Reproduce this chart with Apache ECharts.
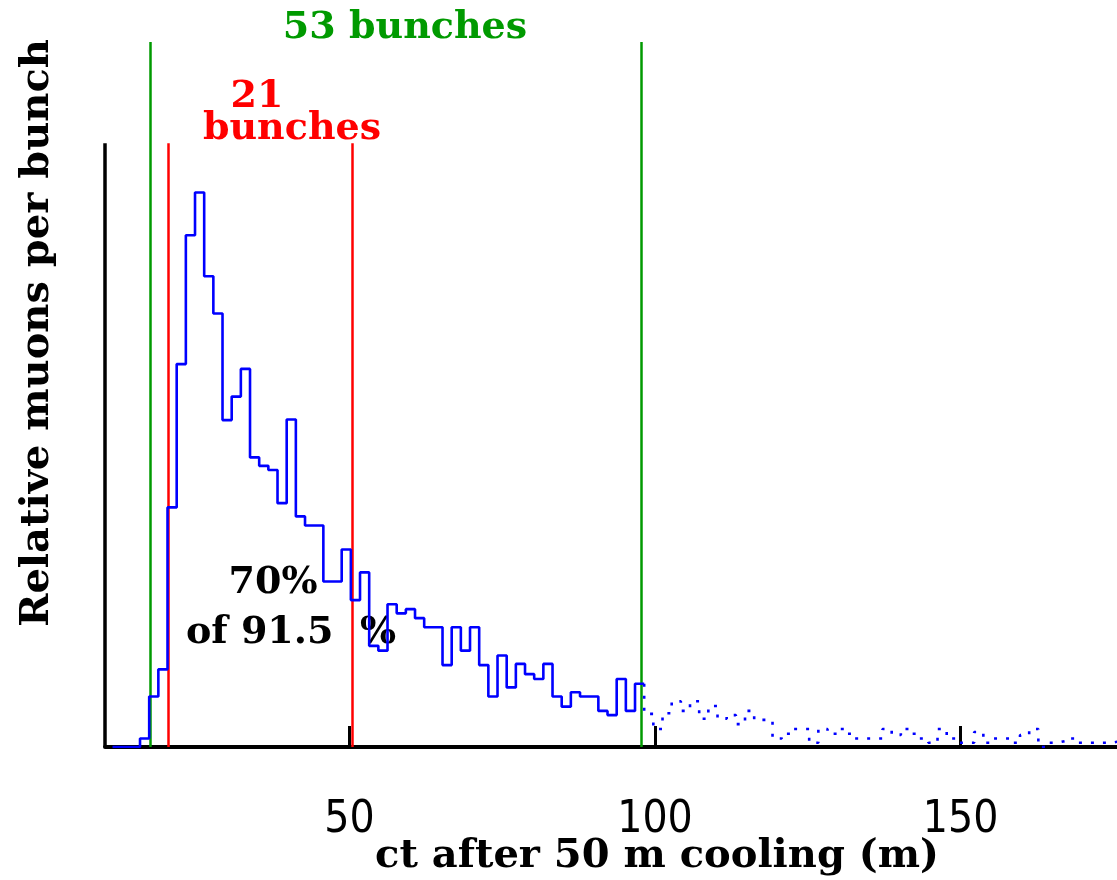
<!DOCTYPE html>
<html>
<head>
<meta charset="utf-8">
<script src="https://cdn.jsdelivr.net/npm/echarts@6/dist/echarts.min.js"></script>
<style>
  html, body { margin: 0; padding: 0; background: #fff; }
  #chart { width: 1117px; height: 880px; }
</style>
</head>
<body>
<div id="chart"></div>
<script>
// Bunch train after 50 m of cooling: muons per 1.5 m RF bucket along ct.
const binStart = 11.23;   // left edge of the first bucket (m)
const binWidth = 1.5;     // bucket spacing (m)

// Buckets inside the 53-bunch window (solid line)
const mainCounts = [
  0, 0, 0,
  1.4, 8.4, 12.9, 39.8, 63.6, 85.0, 92.1, 78.2, 72.0, 54.3,
  58.2, 62.8, 48.1, 46.7, 46.0, 40.5, 54.4, 38.3, 36.8, 36.8,
  27.5, 27.5, 32.8, 24.4, 29.0, 16.8, 16.0, 23.7, 22.2, 22.9,
  21.4, 19.9, 19.9, 13.6, 19.9, 16.0, 19.9, 13.6, 8.4, 15.2,
  9.9, 13.8, 12.1, 11.3, 13.8, 8.4, 6.7, 9.1, 8.4, 8.4,
  6.0, 5.3, 11.3, 6.0, 10.5
];

// Trailing buckets beyond the window (dotted line)
const tailCounts = [
  5.5, 3.0, 5.6, 7.6, 6.0, 7.6, 4.7, 6.8, 4.7, 5.3,
  3.8, 6.0, 4.5, 4.5, 1.4, 2.2, 3.0, 3.0, 0.7, 3.0,
  2.2, 3.0, 2.2, 1.4, 1.4, 1.4, 3.0, 2.0, 3.0, 2.2,
  1.4, 0.7, 3.0, 1.4, 0.7, 0.7, 2.5, 0.7, 1.4, 1.4,
  0.7, 2.0, 3.0, 0.0, 0.7, 1.0, 1.4, 0.7, 0.7, 0.7,
  0.7, 1.0
];

// Bunch-window boundaries (m)
const window53 = [17.36, 97.8];
const window21 = [20.4, 50.44];

const xTickValues = [50, 100, 150];
const xRange = [10, 175.6];
const yMax = 117.1;
const yAxisTop = 100.3;
const redTop = 100.3;

// Step outline: each bucket is one horizontal run ending at its right edge.
function stepPoints(counts, firstBin, startValue) {
  const pts = [[binStart + firstBin * binWidth, startValue]];
  counts.forEach((v, i) => {
    pts.push([binStart + (firstBin + i + 1) * binWidth, v]);
  });
  return pts;
}

const mainLine = stepPoints(mainCounts, 0, 0);
const tailLine = stepPoints(tailCounts, mainCounts.length, mainCounts[mainCounts.length - 1]);

const serif = '"DejaVu Serif", "Liberation Serif", serif';
const green = '#009a00';
const red = '#ff0000';
const blue = '#0000ff';

function vLine(x, top, color) {
  return [
    { coord: [x, 0], lineStyle: { color: color } },
    { coord: [x, top] }
  ];
}

const chart = echarts.init(document.getElementById('chart'), null, { renderer: 'canvas' });
chart.setOption({
  animation: false,
  backgroundColor: '#ffffff',
  grid: { left: 105, right: 0, top: 42, bottom: 133, containLabel: false, outerBoundsMode: 'none' },
  xAxis: {
    type: 'value',
    min: xRange[0],
    max: xRange[1],
    name: 'ct after 50 m cooling (m)',
    nameLocation: 'middle',
    nameGap: 90,
    nameMoveOverlap: false,
    nameTextStyle: {
      fontFamily: serif, fontWeight: 'bold', fontSize: 40, color: '#000',
      padding: [0, 0, 0, 92]
    },
    axisLine: { show: true, lineStyle: { color: '#000', width: 4 } },
    axisTick: { show: true, inside: true, length: 21, lineStyle: { color: '#000', width: 3 }, customValues: xTickValues },
    axisLabel: {
      customValues: xTickValues,
      margin: 52,
      fontFamily: '"Liberation Sans Narrow", "DejaVu Sans Condensed", sans-serif',
      fontSize: 44,
      color: '#000'
    },
    splitLine: { show: false }
  },
  yAxis: {
    type: 'value',
    min: 0,
    max: yMax,
    axisLine: { show: false },
    axisTick: { show: false },
    axisLabel: { show: false },
    splitLine: { show: false }
  },
  graphic: [
    {
      type: 'text', x: 38, y: 333, rotation: Math.PI / 2, z: 0,
      style: { text: 'Relative muons per bunch', font: 'bold 40px ' + serif, fill: '#000', align: 'center', verticalAlign: 'middle' }
    },
    {
      type: 'text', x: 405, y: 28, z: 0,
      style: { text: '53 bunches', font: 'bold 38px ' + serif, fill: green, align: 'center', verticalAlign: 'middle' }
    },
    {
      type: 'text', x: 257, y: 97, z: 0,
      style: { text: '21', font: 'bold 38px ' + serif, fill: red, align: 'center', verticalAlign: 'middle' }
    },
    {
      type: 'text', x: 292, y: 129, z: 0,
      style: { text: 'bunches', font: 'bold 38px ' + serif, fill: red, align: 'center', verticalAlign: 'middle' }
    },
    {
      type: 'text', x: 273, y: 583, z: 0,
      style: { text: '70%', font: 'bold 38px ' + serif, fill: '#000', align: 'center', verticalAlign: 'middle' }
    },
    {
      type: 'text', x: 291, y: 633, z: 0,
      style: { text: 'of 91.5  %', font: 'bold 38px ' + serif, fill: '#000', align: 'center', verticalAlign: 'middle' }
    }
  ],
  series: [
    {
      type: 'line',
      name: 'within window',
      data: mainLine,
      step: 'start',
      showSymbol: false,
      symbol: 'none',
      z: 5,
      lineStyle: { color: blue, width: 2.6 },
      markLine: {
        silent: true,
        symbol: 'none',
        label: { show: false },
        lineStyle: { type: 'solid', width: 2.5 },
        data: [
          [{ coord: [xRange[0], 0], lineStyle: { color: '#000', width: 3.5 } }, { coord: [xRange[0], yAxisTop] }],
          vLine(window53[0], yMax, green),
          vLine(window53[1], yMax, green),
          vLine(window21[0], redTop, red),
          vLine(window21[1], redTop, red)
        ]
      }
    },
    {
      type: 'line',
      name: 'beyond window',
      data: tailLine,
      step: 'start',
      showSymbol: false,
      symbol: 'none',
      z: 5,
      lineStyle: { color: blue, width: 2.6, type: [3, 9] }
    }
  ]
});
</script>
</body>
</html>
